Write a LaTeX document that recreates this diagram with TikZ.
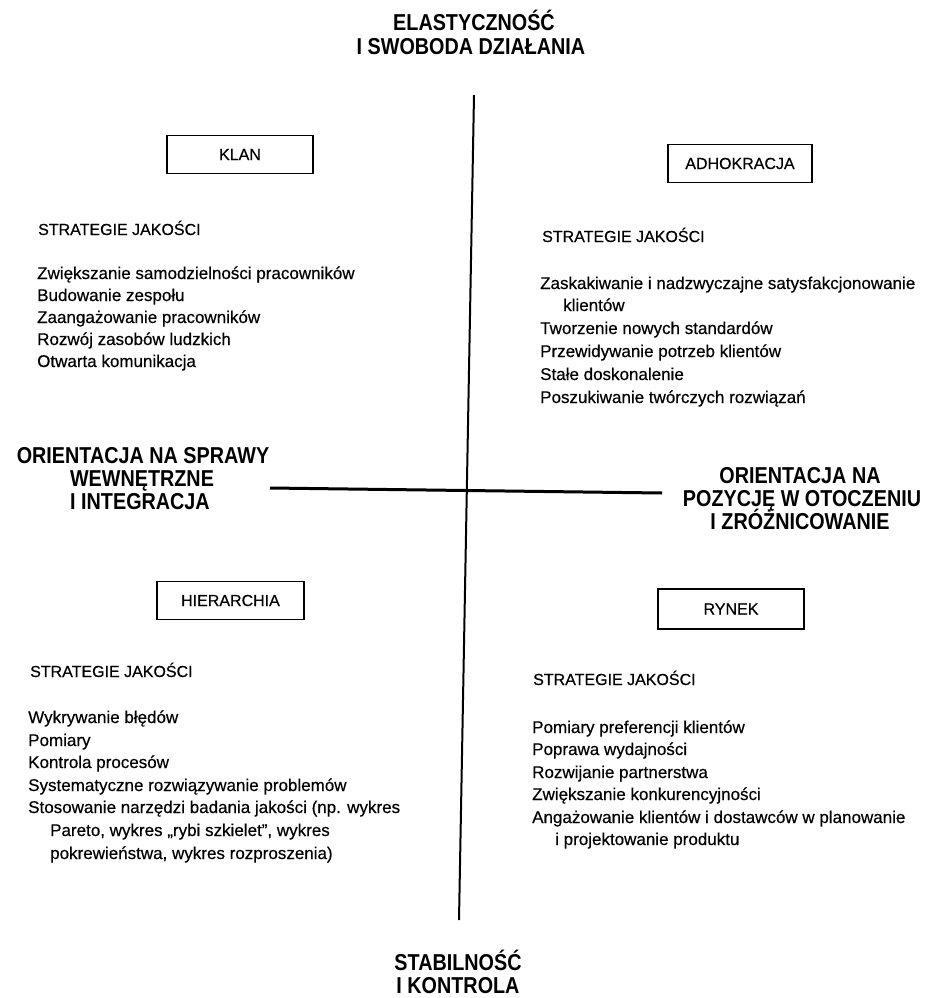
\documentclass[tikz,border=0pt]{standalone}
\usepackage{fontspec}
\setmainfont{Liberation Sans}
\newfontfamily\axisfamily{Liberation Sans}[FakeStretch=0.86]
\newfontfamily\bodyfamily{Liberation Sans}[FakeBold=0.4]
\newcommand\axisfont{\axisfamily\bfseries\fontsize{23}{26}\selectfont}
\newcommand\bodyfont{\bodyfamily\fontsize{17}{22}\selectfont}
\newcommand\capsfont{\bodyfamily\fontsize{16}{20}\selectfont}
\tikzset{
  axislabel/.style={font=\axisfont, anchor=base, inner sep=0pt},
  bodyline/.style={font=\bodyfont, anchor=base west, inner sep=0pt},
  headline/.style={font=\capsfont, anchor=base west, inner sep=0pt},
  typebox/.style={draw, line width=1.8pt, minimum width=146pt, minimum height=38pt,
                  font=\capsfont, inner sep=0pt},
  axisline/.style={line width=2pt},
}
\begin{document}
\begin{tikzpicture}[x=1pt,y=-1pt]
\fill[white] (0,0) rectangle (924,998);
\useasboundingbox (0,0) rectangle (924,998);

% axes
\coordinate (vtop) at (474,95);
\coordinate (vbot) at (459,920);
\coordinate (hleft) at (270,488);
\coordinate (hright) at (662,493);
\draw[axisline] (vtop) -- (vbot);
\draw[axisline, line width=3pt] (hleft) -- (hright);

% axis labels
\node[axislabel] (title1) at (474,31) {ELASTYCZNOŚĆ};
\node[axislabel] (title2) at (471,55) {I SWOBODA DZIAŁANIA};
\node[axislabel] (bottom1) at (458,970) {STABILNOŚĆ};
\node[axislabel] (bottom2) at (458,993) {I KONTROLA};
\node[axislabel] (left1) at (143,463) {ORIENTACJA NA SPRAWY};
\node[axislabel] (left2) at (142,486) {WEWNĘTRZNE};
\node[axislabel] (left3) at (140,509) {I INTEGRACJA};
\node[axislabel] (right1) at (800,483) {ORIENTACJA NA};
\node[axislabel] (right2) at (802,506) {POZYCJĘ W OTOCZENIU};
\node[axislabel] (right3) at (800,529) {I ZRÓŻNICOWANIE};

% culture type boxes
\node[typebox] (klan)  at (240,154.5) {KLAN};
\node[typebox, minimum width=144pt] (adhok) at (740,163.5) {ADHOKRACJA};
\node[typebox, minimum width=147pt] (hier)  at (230.5,600.5) {HIERARCHIA};
\node[typebox, minimum height=40pt] (rynek) at (731,609) {RYNEK};

% clan strategies
\node[headline] (tlh) at (38,235) {STRATEGIE JAKOŚCI};
\node[bodyline] (tl1) at (37,279) {Zwiększanie samodzielności pracowników};
\node[bodyline] (tl2) at (37,301) {Budowanie zespołu};
\node[bodyline] (tl3) at (37,323) {Zaangażowanie pracowników};
\node[bodyline] (tl4) at (37,345) {Rozwój zasobów ludzkich};
\node[bodyline] (tl5) at (37,367) {Otwarta komunikacja};

% adhocracy strategies
\node[headline] (trh) at (542,242) {STRATEGIE JAKOŚCI};
\node[bodyline] (tr1) at (540,289) {Zaskakiwanie i nadzwyczajne satysfakcjonowanie};
\node[bodyline] (tr2) at (563,311) {klientów};
\node[bodyline] (tr3) at (540,334) {Tworzenie nowych standardów};
\node[bodyline] (tr4) at (540,357) {Przewidywanie potrzeb klientów};
\node[bodyline] (tr5) at (540,380) {Stałe doskonalenie};
\node[bodyline] (tr6) at (540,403) {Poszukiwanie twórczych rozwiązań};

% hierarchy strategies
\node[headline] (blh) at (30,677) {STRATEGIE JAKOŚCI};
\node[bodyline] (bl1) at (28,723) {Wykrywanie błędów};
\node[bodyline] (bl2) at (28,746) {Pomiary};
\node[bodyline] (bl3) at (28,768) {Kontrola procesów};
\node[bodyline] (bl4) at (28,791) {Systematyczne rozwiązywanie problemów};
\node[bodyline] (bl5) at (28,813) {Stosowanie narzędzi badania jakości (np. wykres};
\node[bodyline] (bl6) at (50,836) {Pareto, wykres „rybi szkielet”, wykres};
\node[bodyline] (bl7) at (50,859) {pokrewieństwa, wykres rozproszenia)};

% market strategies
\node[headline] (brh) at (533,685) {STRATEGIE JAKOŚCI};
\node[bodyline] (br1) at (532,733) {Pomiary preferencji klientów};
\node[bodyline] (br2) at (532,755) {Poprawa wydajności};
\node[bodyline] (br3) at (532,778) {Rozwijanie partnerstwa};
\node[bodyline] (br4) at (532,800) {Zwiększanie konkurencyjności};
\node[bodyline] (br5) at (532,823) {Angażowanie klientów i dostawców w planowanie};
\node[bodyline] (br6) at (555,845) {i projektowanie produktu};
\end{tikzpicture}
\end{document}
